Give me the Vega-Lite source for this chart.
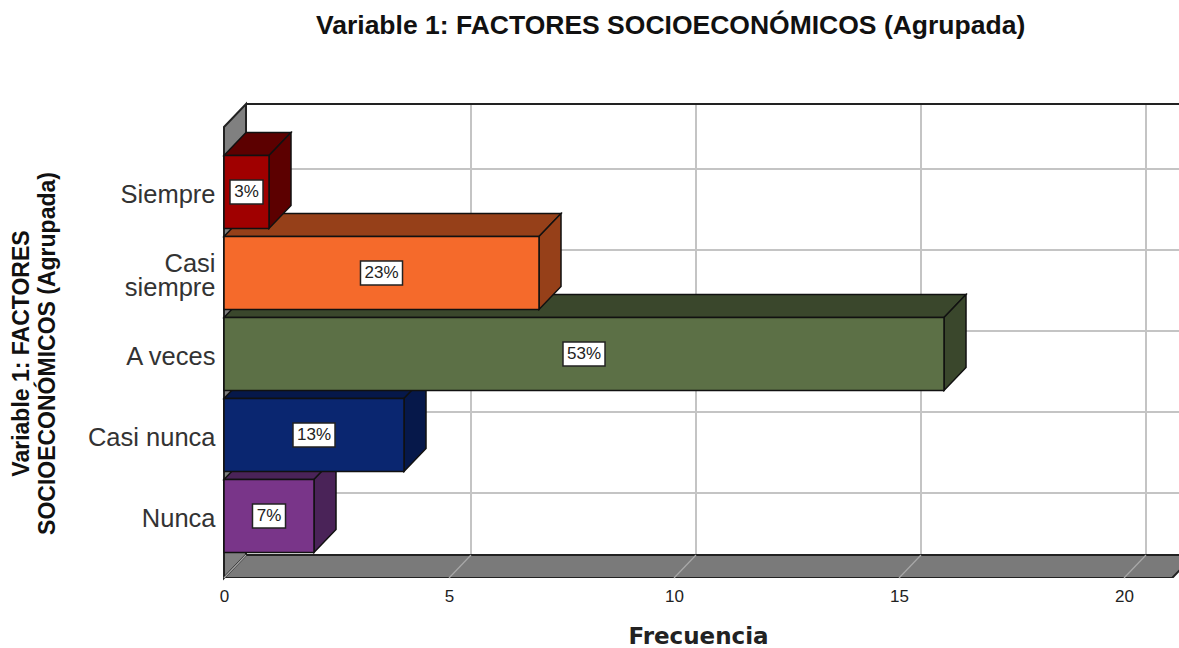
{
"$schema":"https://vega.github.io/schema/vega-lite/v6.json",
"width":955,"height":474,
"autosize":{"type":"none"},
"padding":{"left":224,"top":104,"right":0,"bottom":70},
"background":"white",
"view":{"stroke":null},
"title":{"text":"Variable 1: FACTORES SOCIOECONÓMICOS (Agrupada)","font":"Liberation Sans","fontWeight":"bold","fontSize":26.5,"color":"#111111","anchor":"start","frame":"group","dx":92,"offset":40,"baseline":"alphabetic"},
"datasets":{
"barras":[
{"categoria":"Nunca","orden":1,"frecuencia":2,"porcentaje":"7%"},
{"categoria":"Casi nunca","orden":2,"frecuencia":4,"porcentaje":"13%"},
{"categoria":"A veces","orden":3,"frecuencia":16,"porcentaje":"53%"},
{"categoria":"Casi siempre","orden":4,"frecuencia":7,"porcentaje":"23%"},
{"categoria":"Siempre","orden":5,"frecuencia":1,"porcentaje":"3%"}
],
"fondo":[{"paso":0},{"paso":1}],
"divisiones":[{"v":0},{"v":5},{"v":10},{"v":15},{"v":20}]
},
"layer":[
{"data":{"name":"divisiones"},
 "transform":[{"filter":"datum.v>0"},{"calculate":"datum.v+0.489","as":"xg"},{"calculate":"0.5186","as":"y0"},{"calculate":"6.086","as":"y1"}],
 "mark":{"type":"rule","color":"#c4c4c4","strokeWidth":2},
 "encoding":{
  "x":{"field":"xg","type":"quantitative","scale":{"domain":[0,21.222],"nice":false,"zero":false},
   "axis":{"values":[0,5,10,15,20],"format":"d","title":"Frecuencia","grid":false,"ticks":false,"domain":false,"labelFlush":false,"labelFont":"Liberation Sans","labelFontSize":17,"labelColor":"#222222","labelPadding":10,"titleFont":"DejaVu Sans","titleFontWeight":"bold","titleFontSize":23,"titleColor":"#222222","titleX":474,"titleY":47}},
  "y":{"field":"y0","type":"quantitative","scale":{"domain":[0.2346,6.086],"nice":false,"zero":false},
   "axis":{"values":[1,2,3,4,5],"labelExpr":"datum.value==1?'Nunca':datum.value==2?'Casi nunca':datum.value==3?'A veces':datum.value==4?['Casi','siempre']:'Siempre'","title":["Variable 1: FACTORES","SOCIOECONÓMICOS (Agrupada)"],"grid":false,"ticks":false,"domain":false,"labelFont":"Liberation Sans","labelFontSize":25.5,"labelColor":"#333333","labelPadding":9,"labelLineHeight":24,"labelOffset":{"condition":{"test":"datum.value==4","value":-9},"value":3},"titleFont":"Liberation Sans","titleFontWeight":"bold","titleFontSize":23,"titleColor":"#111111","titleLineHeight":26,"titleX":-191,"titleY":249,"titleAnchor":"middle"}},
  "y2":{"field":"y1"}
 }},
{"data":{"name":"barras"},
 "transform":[{"calculate":"datum.orden+0.284","as":"yg"},{"calculate":"0.489","as":"xa"},{"calculate":"21.222","as":"xb"}],
 "mark":{"type":"rule","color":"#c4c4c4","strokeWidth":2},
 "encoding":{"x":{"field":"xa","type":"quantitative"},"x2":{"field":"xb"},"y":{"field":"yg","type":"quantitative"}}},
{"data":{"name":"fondo"},
 "transform":[{"calculate":"6.086","as":"yg"},{"calculate":"0.489","as":"xa"},{"calculate":"21.222","as":"xb"}],
 "mark":{"type":"rule","color":"#222222","strokeWidth":2},
 "encoding":{"x":{"field":"xa","type":"quantitative"},"x2":{"field":"xb"},"y":{"field":"yg","type":"quantitative"}}},
{"data":{"name":"fondo"},
 "transform":[{"calculate":"datum.paso*0.489","as":"xp"},{"calculate":"0.2346+datum.paso*0.284","as":"y0"},{"calculate":"5.802+datum.paso*0.284","as":"y1"}],
 "mark":{"type":"area","orient":"vertical","fill":"#808080","stroke":"#222222","strokeWidth":2},
 "encoding":{"x":{"field":"xp","type":"quantitative"},"y":{"field":"y1","type":"quantitative"},"y2":{"field":"y0"}}},
{"data":{"name":"fondo"},
 "transform":[{"calculate":"datum.paso*0.489","as":"xa"},{"calculate":"21.07+datum.paso*0.489","as":"xb"},{"calculate":"0.2346+datum.paso*0.284","as":"yp"}],
 "mark":{"type":"area","orient":"horizontal","fill":"#7a7a7a","stroke":"#222222","strokeWidth":2,"clip":true},
 "encoding":{"x":{"field":"xa","type":"quantitative"},"x2":{"field":"xb"},"y":{"field":"yp","type":"quantitative"}}},
{"data":{"name":"divisiones"},
 "transform":[{"calculate":"[0,1]","as":"paso"},{"flatten":["paso"]},{"calculate":"datum.v+datum.paso*0.489","as":"xl"},{"calculate":"0.2346+datum.paso*0.284","as":"yl"}],
 "mark":{"type":"line","color":"#a8a8a8","strokeWidth":1.2},
 "encoding":{"x":{"field":"xl","type":"quantitative"},"y":{"field":"yl","type":"quantitative"},"detail":{"field":"v","type":"nominal"}}},
{"data":{"name":"barras"},
 "transform":[{"calculate":"[0,1]","as":"paso"},{"flatten":["paso"]},{"calculate":"datum.paso*0.489","as":"xa"},{"calculate":"datum.frecuencia+datum.paso*0.489","as":"xb"},{"calculate":"datum.orden+0.45+datum.paso*0.284","as":"yp"}],
 "mark":{"type":"area","orient":"horizontal","stroke":"#111111","strokeWidth":1.5},
 "encoding":{"x":{"field":"xa","type":"quantitative"},"x2":{"field":"xb"},"y":{"field":"yp","type":"quantitative"},"detail":{"field":"categoria","type":"nominal"},
  "fill":{"field":"categoria","type":"nominal","legend":null,"scale":{"domain":["Nunca","Casi nunca","A veces","Casi siempre","Siempre"],"range":["#4a2358","#06184a","#3a472c","#964019","#5c0000"]}}}},
{"data":{"name":"barras"},
 "transform":[{"calculate":"[0,1]","as":"paso"},{"flatten":["paso"]},{"calculate":"datum.frecuencia+datum.paso*0.489","as":"xp"},{"calculate":"datum.orden+0.45+datum.paso*0.284","as":"y1"},{"calculate":"datum.orden-0.45+datum.paso*0.284","as":"y0"}],
 "mark":{"type":"area","orient":"vertical","stroke":"#111111","strokeWidth":1.5},
 "encoding":{"x":{"field":"xp","type":"quantitative"},"y":{"field":"y1","type":"quantitative"},"y2":{"field":"y0"},"detail":{"field":"categoria","type":"nominal"},
  "fill":{"field":"categoria","type":"nominal","legend":null,"scale":{"domain":["Nunca","Casi nunca","A veces","Casi siempre","Siempre"],"range":["#4a2358","#06184a","#3a472c","#964019","#5c0000"]}}}},
{"data":{"name":"barras"},
 "transform":[{"calculate":"datum.orden-0.45","as":"y0"},{"calculate":"datum.orden+0.45","as":"y1"},{"calculate":"0","as":"x0"}],
 "mark":{"type":"rect","stroke":"#111111","strokeWidth":1.5},
 "encoding":{"x":{"field":"x0","type":"quantitative"},"x2":{"field":"frecuencia"},"y":{"field":"y1","type":"quantitative"},"y2":{"field":"y0"},
  "fill":{"field":"categoria","type":"nominal","legend":null,"scale":{"domain":["Nunca","Casi nunca","A veces","Casi siempre","Siempre"],"range":["#793589","#0a2670","#5c7046","#f56a2b","#a00000"]}}}},
{"data":{"name":"barras"},
 "transform":[{"calculate":"datum.frecuencia/2-(length(datum.porcentaje)>2?0.467:0.367)","as":"xa"},{"calculate":"datum.frecuencia/2+(length(datum.porcentaje)>2?0.467:0.367)","as":"xb"},{"calculate":"datum.orden-0.148","as":"y0"},{"calculate":"datum.orden+0.148","as":"y1"}],
 "mark":{"type":"rect","fill":"white","stroke":"#222222","strokeWidth":1.5},
 "encoding":{"x":{"field":"xa","type":"quantitative"},"x2":{"field":"xb"},"y":{"field":"y1","type":"quantitative"},"y2":{"field":"y0"}}},
{"data":{"name":"barras"},
 "transform":[{"calculate":"datum.frecuencia/2","as":"xc"}],
 "mark":{"type":"text","font":"Liberation Sans","fontSize":17,"color":"#222222","align":"center","baseline":"middle"},
 "encoding":{"x":{"field":"xc","type":"quantitative"},"y":{"field":"orden","type":"quantitative"},"text":{"field":"porcentaje","type":"nominal"}}}
],
"resolve":{"scale":{"fill":"independent"}}
}
